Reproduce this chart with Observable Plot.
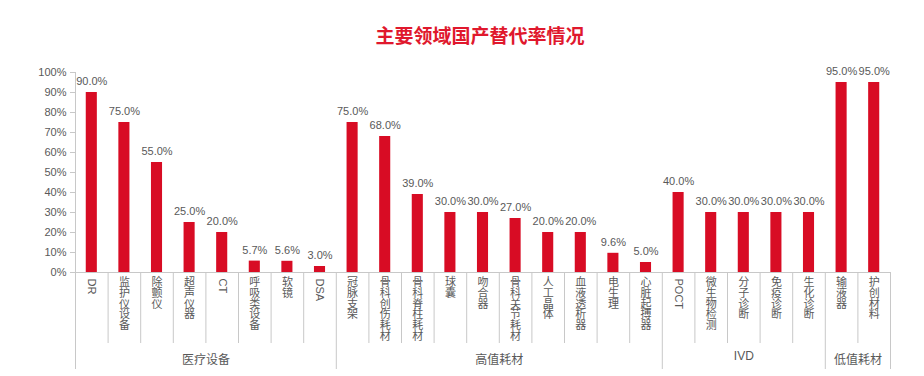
<!DOCTYPE html>
<html>
<head>
<meta charset="utf-8">
<script src="https://cdn.jsdelivr.net/npm/d3@7"></script>
<script src="https://cdn.jsdelivr.net/npm/@observablehq/plot@0.6"></script>
<style>
  html, body { margin: 0; padding: 0; background: #fff; }
  body { width: 924px; height: 376px; overflow: hidden; font-family: "Liberation Sans", "Noto Sans CJK SC", sans-serif; }
  #title { height: 52px; box-sizing: border-box; padding-top: 24px; text-align: center; padding-left: 36px;
    font-family: "Noto Sans CJK SC", sans-serif; font-weight: bold; font-size: 19px; line-height: 22px; color: #e0182d; }
  #chart svg { display: block; }
</style>
</head>
<body>
<div id="title">主要领域国产替代率情况</div>
<div id="chart"></div>
<script>
const categories = ["DR", "监护仪设备", "除颤仪", "超声仪器", "CT", "呼吸类设备", "软镜", "DSA",
  "冠脉支架", "骨科创伤耗材", "骨科脊柱耗材", "球囊", "吻合器", "骨科关节耗材", "人工晶体", "血液透析器", "电生理", "心脏起搏器",
  "POCT", "微生物检测", "分子诊断", "免疫诊断", "生化诊断",
  "输液器", "护创材料"];
const values = [0.90, 0.75, 0.55, 0.25, 0.20, 0.057, 0.056, 0.03,
  0.75, 0.68, 0.39, 0.30, 0.30, 0.27, 0.20, 0.20, 0.096, 0.05,
  0.40, 0.30, 0.30, 0.30, 0.30,
  0.95, 0.95];
const groupNames = ["医疗设备", "高值耗材", "IVD", "低值耗材"];
const groupSizes = [8, 10, 5, 2];
const yTicks = [0, 0.1, 0.2, 0.3, 0.4, 0.5, 0.6, 0.7, 0.8, 0.9, 1.0];

const data = categories.map((c, i) => ({category: c, value: values[i]}));
const isLatin = s => /^[A-Za-z0-9 ]+$/.test(s);

// group membership
const starts = [];
{ let s = 0; for (const n of groupSizes) { starts.push(s); s += n; } }

// layout
const W = 924, H = 324, mL = 75, mR = 34, mT = 20, mB = 104;
const step = (W - mL - mR) / categories.length;
const plotH = H - mT - mB;
const shortDrop = -71 / plotH, longDrop = -97 / plotH;

const groups = groupNames.map((g, k) => {
  const s = starts[k], n = groupSizes[k];
  return {name: g, mid: categories[s + Math.floor(n / 2)], shift: n % 2 === 0 ? -step / 2 : 0, dy: g === "IVD" ? 84 : 88};
});

const boundaries = categories.map((c, i) => ({category: c, long: starts.includes(i), first: i === 0}));
const lastCat = categories[categories.length - 1];

const grey = "#595959", lineCol = "#c8c8c8";

const plot = Plot.plot({
  width: W, height: H,
  marginLeft: mL, marginRight: mR, marginTop: mT, marginBottom: mB,
  style: {fontFamily: '"Liberation Sans", "Noto Sans CJK SC", sans-serif', fontSize: "11px", color: grey, background: "#fff"},
  x: {type: "band", domain: categories, paddingInner: 0.66, paddingOuter: 0.33, round: false, axis: null},
  y: {domain: [0, 1], axis: null},
  marks: [
    Plot.axisY({ticks: yTicks, tickFormat: d3.format(".0%"), tickSize: 5, tickPadding: 4, stroke: lineCol, fill: grey, fontSize: 11, label: null}),
    Plot.barY(data, {x: "category", y: "value", fill: "#d80c24"}),
    Plot.text(data, {x: "category", y: "value", text: d => d3.format(".1%")(d.value), dy: -11, fill: grey, fontSize: 11}),
    Plot.ruleY([0], {stroke: lineCol}),
    // y axis line continuing into first group separator
    Plot.ruleX(boundaries.filter(d => d.first), {x: "category", dx: -step / 2, y1: longDrop, y2: 1, stroke: lineCol}),
    Plot.ruleX(boundaries.filter(d => !d.first), {x: "category", dx: -step / 2, y1: d => d.long ? longDrop : shortDrop, y2: 0, stroke: lineCol}),
    Plot.ruleX([lastCat], {dx: step / 2, y1: longDrop, y2: 0, stroke: lineCol}),
    // CJK category labels: one character per line, upright
    Plot.text(data.filter(d => !isLatin(d.category)), {x: "category", y: 0, text: d => Array.from(d.category).join("\n"),
      dy: 6, lineAnchor: "top", lineHeight: 0.98, fill: grey, fontSize: 11}),
    // Latin category labels: rotated, reading top to bottom
    Plot.text(data.filter(d => isLatin(d.category)), {x: "category", y: 0, text: "category",
      dy: 6, rotate: 90, textAnchor: "start", lineAnchor: "middle", fill: grey, fontSize: 11}),
    ...groups.map(g => Plot.text([g], {x: "mid", y: 0, text: "name", dx: g.shift, dy: g.dy, fill: grey, fontSize: 12}))
  ]
});

document.getElementById("chart").appendChild(plot);
</script>
</body>
</html>
